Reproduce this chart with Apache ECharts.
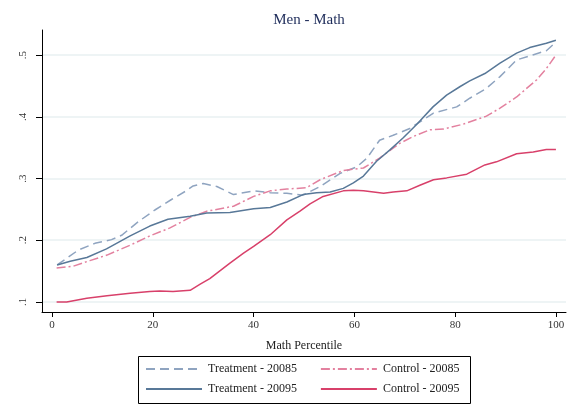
<!DOCTYPE html>
<html><head><meta charset="utf-8">
<script src="https://cdn.jsdelivr.net/npm/echarts@6/dist/echarts.min.js"></script>
<style>html,body{margin:0;padding:0;background:#fff}#c{width:578px;height:409px}</style>
</head><body><div id="c"></div>
<script>
const titleText = "Men - Math";
const xName = "Math Percentile";
const xTicks = [0, 20, 40, 60, 80, 100];
const yTicks = [0.1, 0.2, 0.3, 0.4, 0.5];
const names = ["Treatment - 20085", "Control - 20085", "Treatment - 20095", "Control - 20095"];

const t85X = [1,5.2,8.5,11.8,13.8,17.1,20.4,23.7,26.4,28,30,32.7,36,40,43.3,46.6,49.8,53.2,57.1,60.5,62.5,65,67.7,71,75.7,80.3,82.9,86.2,88.9,92.2,95.4,98.1,100];
const t85Y = [.160,.184,.195,.201,.208,.230,.249,.266,.279,.288,.292,.287,.274,.280,.277,.276,.273,.287,.308,.319,.333,.362,.370,.381,.406,.416,.430,.446,.465,.492,.500,.507,.521];

const t95X = [1,3.6,6.9,10.8,15.5,19.4,23,27.4,30.7,35.3,40,43.3,46.6,49.8,52.5,55.2,57.8,59.8,61.8,64.4,67,69.7,72.4,75.6,78.3,81,82.9,85.9,88.9,92.2,94.8,98.1,100];
const t95Y = [.160,.166,.172,.186,.207,.223,.234,.239,.244,.245,.251,.253,.262,.274,.277,.278,.284,.293,.304,.328,.346,.366,.388,.416,.435,.449,.458,.470,.487,.503,.512,.519,.524];

const c85X = [0.9,4.2,7.5,10.9,15.5,19.4,23.4,27.4,30.7,36,40,43.3,46.6,50.5,53.2,57.8,61.8,65,69,71.7,75,77.7,81.6,86.2,88.9,92.2,96.2,98.1,100];
const c85Y = [.155,.158,.167,.176,.192,.207,.220,.237,.247,.255,.271,.280,.283,.285,.298,.313,.317,.333,.357,.368,.379,.380,.388,.401,.414,.432,.460,.478,.500];

const c95X = [0.9,2.9,6.9,10.9,15.5,19.4,21.4,24,27.4,29.4,31.3,35.3,38,40,43.3,46.6,49.2,51.2,53.8,57.8,59.8,61.8,65.8,67.7,70.4,73,75.7,78.3,82.3,85.9,88.2,92.2,95.5,98.1,100];
const c95Y = [.100,.100,.106,.110,.114,.117,.118,.117,.119,.129,.138,.163,.179,.190,.209,.233,.247,.259,.271,.280,.281,.280,.276,.278,.280,.289,.298,.301,.307,.322,.327,.340,.343,.347,.347];

const zip = (xs, ys) => xs.map((x, i) => [x, ys[i]]);
const FONT = "Liberation Serif";
const colors = {
  t85: "#8fa4c0", c85: "#e3819f", t95: "#587898", c95: "#d8406a"
};
function mkSeries(name, xs, ys, color, type) {
  return {
    name, type: "line", data: zip(xs, ys), showSymbol: false, symbol: "none",
    lineStyle: { color, width: 1.5, type }, itemStyle: { color },
    emphasis: { disabled: true }, animation: false
  };
}
const chart = echarts.init(document.getElementById("c"), null, { renderer: "canvas" });
const legendCommon = {
  left: 145, itemWidth: 56, itemHeight: 12, itemGap: 23, padding: 0,
  itemStyle: { opacity: 0 },
  textStyle: { fontFamily: FONT, fontSize: 12, color: "#222", padding: [0, 0, 0, 1] }
};
chart.setOption({
  backgroundColor: "#fff",
  title: { text: titleText, left: 304, textAlign: "center", top: 8,
    textStyle: { fontFamily: FONT, fontSize: 15, fontWeight: "normal", color: "#1e2c5a" } },
  grid: { left: 42, right: 12, top: 30, bottom: 97 },
  legend: [
    Object.assign({}, legendCommon, { top: 363, data: [names[0], names[1]] }),
    Object.assign({}, legendCommon, { top: 383, data: [names[2], names[3]] })
  ],
  graphic: [{ type: "rect", shape: { x: 138.5, y: 356.5, width: 332, height: 47 },
    style: { fill: "none", stroke: "#000", lineWidth: 1 } }],
  xAxis: {
    type: "value", min: -2, max: 102,
    name: xName, nameLocation: "middle", nameGap: 28,
    nameTextStyle: { fontFamily: FONT, fontSize: 12, color: "#222" },
    axisLine: { show: true, onZero: false, lineStyle: { color: "#000", width: 1 } },
    axisTick: { show: true, length: 5, customValues: xTicks, lineStyle: { color: "#000" } },
    axisLabel: { customValues: xTicks, fontFamily: FONT, fontSize: 11, color: "#333", margin: 8 },
    splitLine: { show: false }
  },
  yAxis: {
    type: "value", min: 0.0838, max: 0.5405,
    axisLine: { show: true, onZero: false, lineStyle: { color: "#000", width: 1 } },
    axisTick: { show: true, length: 6, customValues: yTicks, lineStyle: { color: "#000" } },
    axisLabel: { customValues: yTicks, rotate: 90, fontFamily: FONT, fontSize: 11, color: "#333", margin: 13,
      formatter: v => "." + Math.round(v * 10) },
    splitLine: { show: true, lineStyle: { color: "#e9f0f2", width: 1.5 } }
  },
  series: [
    mkSeries(names[0], t85X, t85Y, colors.t85, [9, 5]),
    mkSeries(names[1], c85X, c85Y, colors.c85, [9, 3, 2, 3]),
    mkSeries(names[2], t95X, t95Y, colors.t95, "solid"),
    mkSeries(names[3], c95X, c95Y, colors.c95, "solid")
  ]
});
</script></body></html>
